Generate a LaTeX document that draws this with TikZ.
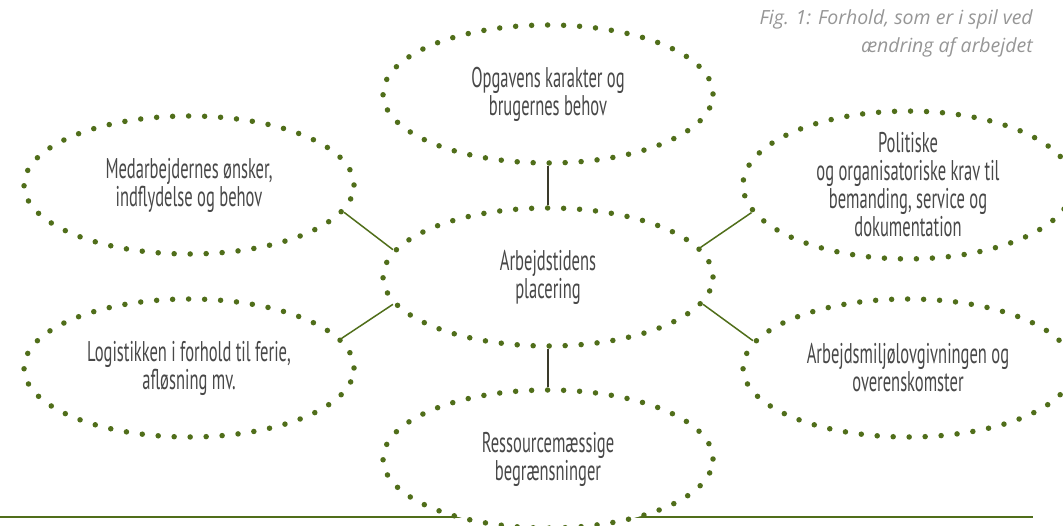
\documentclass[tikz,border=0pt]{standalone}
\usepackage{fontspec}
\setmainfont{PT Sans}[FakeStretch=0.58]
\newfontfamily\capfont{Open Sans}
\usetikzlibrary{shapes.geometric}
\definecolor{dotgreen}{RGB}{80,110,26}
\definecolor{txtgrey}{RGB}{72,72,72}
\definecolor{capgrey}{RGB}{150,150,150}
\definecolor{vline}{RGB}{58,58,42}
\tikzset{
  bubble/.style={ellipse, minimum width=330pt, minimum height=138pt, inner sep=0pt,
    fill=white, draw=dotgreen, line width=5.5pt, line cap=round,
    dash pattern=on 0pt off 16pt, align=center, text=txtgrey,
    font=\fontsize{28.5}{28}\selectfont},
  link/.style={draw=dotgreen, line width=1.5pt},
  vlink/.style={draw=vline, line width=1.5pt},
  caption/.style={align=right, text=capgrey, anchor=north east, inner sep=0pt,
    font=\capfont\itshape\fontsize{19.5}{28}\selectfont}
}
\begin{document}
\begin{tikzpicture}[x=1pt,y=-1pt]
\useasboundingbox (0,0) rectangle (1063,526);
\coordinate (ls) at (0,517);
\coordinate (le) at (1033,517);
\draw[draw=dotgreen, line width=1.8pt] (ls) -- (le);
\node[bubble] (top) at (548,94) {Opgavens karakter og\\brugernes behov};
\node[bubble] (c) at (548,277) {Arbejdstidens\\placering};
\node[bubble] (bot) at (548,459) {Ressourcemæssige\\begrænsninger};
\node[bubble] (lt) at (189,185) {Medarbejdernes ønsker,\\indflydelse og behov};
\node[bubble] (lb) at (189,368) {Logistikken i forhold til ferie,\\afløsning mv.};
\node[bubble] (rt) at (908,185) {Politiske\\og organisatoriske krav til\\bemanding, service og\\dokumentation};
\node[bubble] (rb) at (908,368) {Arbejdsmiljølovgivningen og\\overenskomster};
\draw[vlink] (top.south) -- (c.north);
\draw[vlink] (c.south) -- (bot.north);
\draw[link] (lt.-10) -- (c.170);
\draw[link] (lb.11) -- (c.190);
\draw[link] (c.11) -- (rt.190);
\draw[link] (c.-10) -- (rb.170);
\node[caption] (cap) at (1033,9) {Fig. 1: Forhold, som er i spil ved\\ændring af arbejdet};
\end{tikzpicture}
\end{document}
